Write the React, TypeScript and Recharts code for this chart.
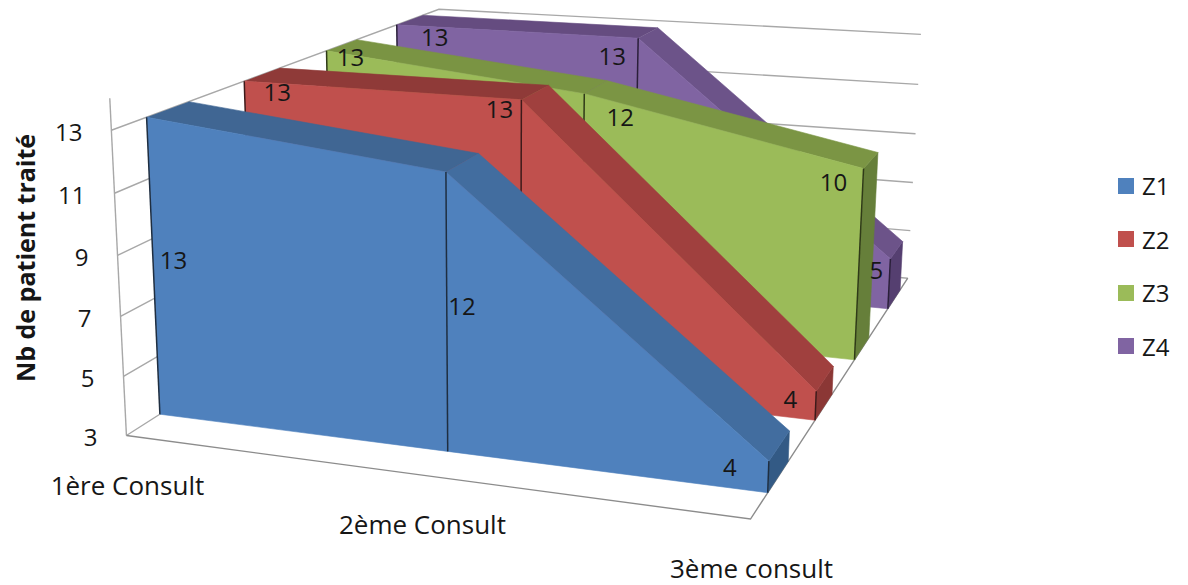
import React from "react";
import { ScatterChart, Scatter, XAxis, YAxis, Legend } from "recharts";

const WIDTH = 1188;
const HEIGHT = 585;
const FONT = "'Open Sans', Lato, sans-serif";

const categories = ["1ère Consult", "2ème Consult", "3ème consult"];
const seriesNames = ["Z1", "Z2", "Z3", "Z4"];
const z1Values = [13, 12, 4];
const z2Values = [13, 13, 4];
const z3Values = [13, 12, 10];
const z4Values = [13, 13, 5];
const seriesValues = [z1Values, z2Values, z3Values, z4Values];
const yTicks = [3, 5, 7, 9, 11, 13];

const AXIS_MIN = 3;
const AXIS_STICK_TOP = 14;
const DEPTH_SLOTS = 4;
const SLAB_FRONT = 0.32;
const SLAB_BACK = 0.73;

const faceColors = ["#4f81bd", "#c0504d", "#9bbb59", "#8064a2"];
const topColors = [
  ["#406693", "#426d9f"],
  ["#8f3a38", "#a0403e"],
  ["#7a9443", "#7b9544"],
  ["#654c80", "#6c5389"],
];
const capColors = ["#335a85", "#8b3735", "#667f3a", "#553f70"];
const edgeColors = ["#1f2e40", "#3d1a1a", "#2f3a18", "#2a1f3a"];
const GRID_COLOR = "#a8a8a8";
const TEXT_COLOR = "#161616";

// Pixel nudges for the value labels, per series then per category
const labelNudges = [
  [[27, 142], [16, 134], [-39, 5]],
  [[33, 10], [-22, 9], [-26, 7]],
  [[24, 6], [36, 23], [-30, 13]],
  [[38, 12], [-26, 17], [-14, 11]],
];

// Camera control points: category, value, depth, screen x, screen y
const F = SLAB_FRONT;
const B = SLAB_BACK;
const cameraPoints = [
  [0, 3, 0, 127, 435], [0, 13, 0, 113, 128], [2, 3, 0, 753, 518],
  [2, 3, 4, 908, 277], [2, 13, 4, 922, 34], [0, 13, 4, 440, 7],
  [0, 13, F, 146, 117], [0, 3, F, 159, 414], [1, 12, F, 446, 172],
  [1, 3, F, 447, 453], [2, 4, F, 768, 460], [2, 3, F, 768, 493],
  [0, 13, B, 187, 103], [1, 12, B, 478, 154], [2, 4, B, 789, 433], [2, 3, B, 789, 460],
  [0, 13, 1 + F, 244, 82], [1, 13, 1 + F, 522, 99], [2, 4, 1 + F, 816, 390], [2, 3, 1 + F, 816, 420],
  [0, 13, 1 + B, 280, 68], [1, 13, 1 + B, 548, 86], [2, 4, 1 + B, 833, 368], [2, 3, 1 + B, 832, 393],
  [0, 13, 2 + F, 327, 52], [1, 12, 2 + F, 583, 93], [2, 10, 2 + F, 863, 168], [2, 3, 2 + F, 855, 360],
  [0, 13, 2 + B, 357, 40], [1, 12, 2 + B, 608, 81], [2, 10, 2 + B, 877, 153], [2, 3, 2 + B, 868, 340],
  [0, 13, 3 + F, 397, 25], [1, 13, 3 + F, 638, 37], [2, 5, 3 + F, 890, 258], [2, 3, 3 + F, 888, 308],
  [0, 13, 3 + B, 422, 16], [1, 13, 3 + B, 658, 29], [2, 5, 3 + B, 902, 243], [2, 3, 3 + B, 900, 290],
];

// Least-squares fit of a 3x4 projection matrix, with the last term fixed at 1
function fitCamera(points: number[][]) {
  const n = 11;
  const ata = Array.from({ length: n }, () => new Array(n + 1).fill(0));
  const addRow = (row: number[], rhs: number) => {
    for (let i = 0; i < n; i++) {
      for (let j = 0; j < n; j++) ata[i][j] += row[i] * row[j];
      ata[i][n] += row[i] * rhs;
    }
  };
  points.forEach(([c, v, d, px, py]) => {
    const u = px / 1000;
    const w = py / 1000;
    const X = [c, v / 10, d];
    addRow([...X, 1, 0, 0, 0, 0, -u * X[0], -u * X[1], -u * X[2]], u);
    addRow([0, 0, 0, 0, ...X, 1, -w * X[0], -w * X[1], -w * X[2]], w);
  });
  for (let col = 0; col < n; col++) {
    let pivot = col;
    for (let r = col + 1; r < n; r++) {
      if (Math.abs(ata[r][col]) > Math.abs(ata[pivot][col])) pivot = r;
    }
    [ata[col], ata[pivot]] = [ata[pivot], ata[col]];
    for (let r = 0; r < n; r++) {
      if (r === col) continue;
      const k = ata[r][col] / ata[col][col];
      for (let j = col; j <= n; j++) ata[r][j] -= k * ata[col][j];
    }
  }
  return ata.map((row, i) => row[n] / row[i]);
}

const camera = fitCamera(cameraPoints);

function project(cat: number, value: number, depth: number) {
  const X = [cat, value / 10, depth];
  const m = camera;
  const h = m[8] * X[0] + m[9] * X[1] + m[10] * X[2] + 1;
  return {
    x: (1000 * (m[0] * X[0] + m[1] * X[1] + m[2] * X[2] + m[3])) / h,
    y: (1000 * (m[4] * X[0] + m[5] * X[1] + m[6] * X[2] + m[7])) / h,
  };
}

const noSymbol = () => <g />;

type Shape = { key: string; points: { x: number; y: number }[]; line: object };

function polygon(key: string, pts: number[][], fill: string): Shape {
  return {
    key,
    points: pts.map(([c, v, d]) => project(c, v, d)),
    line: { fill, stroke: fill, strokeWidth: 0.6 },
  };
}

function stroke(key: string, pts: number[][], color: string, width: number): Shape {
  return {
    key,
    points: pts.map(([c, v, d]) => project(c, v, d)),
    line: { fill: "none", stroke: color, strokeWidth: width },
  };
}

// Walls and floor, drawn first so the series cover them
const wallShapes: Shape[] = [
  ...yTicks.map((t) =>
    stroke(`grid-${t}`, [[0, t, 0], [0, t, DEPTH_SLOTS], [2, t, DEPTH_SLOTS]], GRID_COLOR, 1.4)
  ),
  stroke("y-axis", [[0, AXIS_MIN, 0], [0, AXIS_STICK_TOP, 0]], GRID_COLOR, 1.4),
  stroke("floor", [[0, AXIS_MIN, 0], [2, AXIS_MIN, 0], [2, AXIS_MIN, DEPTH_SLOTS]], "#8c8c8c", 1.4),
];

// One slab per series, back row first
const slabShapes: Shape[] = seriesValues
  .map((values, s) => {
    const front = s + SLAB_FRONT;
    const back = s + SLAB_BACK;
    const last = values.length - 1;
    const tops = values.slice(0, last).map((v, c) =>
      polygon(
        `top-${s}-${c}`,
        [[c, v, front], [c + 1, values[c + 1], front], [c + 1, values[c + 1], back], [c, v, back]],
        topColors[s][c]
      )
    );
    const cap = polygon(
      `cap-${s}`,
      [[last, values[last], front], [last, values[last], back], [last, AXIS_MIN, back], [last, AXIS_MIN, front]],
      capColors[s]
    );
    const face = polygon(
      `face-${s}`,
      [
        ...values.map((v, c) => [c, v, front]),
        ...values.map((_, c) => [last - c, AXIS_MIN, front]),
      ],
      faceColors[s]
    );
    const edges = values.map((v, c) =>
      stroke(`edge-${s}-${c}`, [[c, v, front], [c, AXIS_MIN, front]], edgeColors[s], 1.5)
    );
    return [cap, ...tops, face, ...edges];
  })
  .reverse()
  .flat();

const allShapes = [...wallShapes, ...slabShapes];

const valueLabels = seriesValues.flatMap((values, s) =>
  values.map((v, c) => {
    const top = project(c, v, s + SLAB_FRONT);
    const [dx, dy] = labelNudges[s][c];
    return { x: top.x + dx, y: top.y + dy, text: String(v), anchor: "middle", size: 24 };
  })
);

const tickLabels = yTicks.map((t) => {
  const p = project(0, t, 0);
  return { x: p.x - 29, y: p.y + 1, text: String(t), anchor: "end", size: 24 };
});

const categoryLabels = categories.map((name, c) => {
  const p = project(c, AXIS_MIN, 0);
  return { x: p.x + 1, y: p.y + 49, text: name, anchor: "middle", size: 26 };
});

const TextMark = (props: any) => (
  <text
    x={props.cx}
    y={props.cy}
    textAnchor={props.payload.anchor}
    dominantBaseline="central"
    fontFamily={FONT}
    fontSize={props.payload.size}
    fill={TEXT_COLOR}
  >
    {props.payload.text}
  </text>
);

const LegendContent = () => (
  <div style={{ fontFamily: FONT, fontSize: 24, color: TEXT_COLOR }}>
    {seriesNames.map((name, s) => (
      <div key={name} style={{ display: "flex", alignItems: "center", height: 53.5 }}>
        <span style={{ width: 16, height: 16, background: faceColors[s], marginRight: 8 }} />
        {name}
      </div>
    ))}
  </div>
);

export default function App() {
  return (
    <div style={{ position: "absolute", left: 0, top: 0, width: WIDTH, height: HEIGHT, background: "#fff" }}>
      <ScatterChart width={WIDTH} height={HEIGHT} margin={{ top: 0, right: 0, bottom: 0, left: 0 }}>
        <XAxis type="number" dataKey="x" domain={[0, WIDTH]} hide allowDataOverflow />
        <YAxis type="number" dataKey="y" domain={[0, HEIGHT]} reversed hide allowDataOverflow />
        <Legend
          layout="vertical"
          align="center"
          verticalAlign="middle"
          wrapperStyle={{ left: 1118, top: 159, width: 70 }}
          content={LegendContent}
        />
        {allShapes.map((s) => (
          <Scatter
            key={s.key}
            data={s.points}
            line={s.line}
            shape={noSymbol}
            legendType="none"
            isAnimationActive={false}
          />
        ))}
        <Scatter
          data={[...tickLabels, ...categoryLabels, ...valueLabels]}
          shape={TextMark}
          legendType="none"
          isAnimationActive={false}
        />
        <text
          transform="translate(25 258) rotate(-90)"
          textAnchor="middle"
          dominantBaseline="central"
          fontFamily={FONT}
          fontSize={25}
          fontWeight={700}
          fill={TEXT_COLOR}
        >
          Nb de patient traité
        </text>
      </ScatterChart>
    </div>
  );
}
